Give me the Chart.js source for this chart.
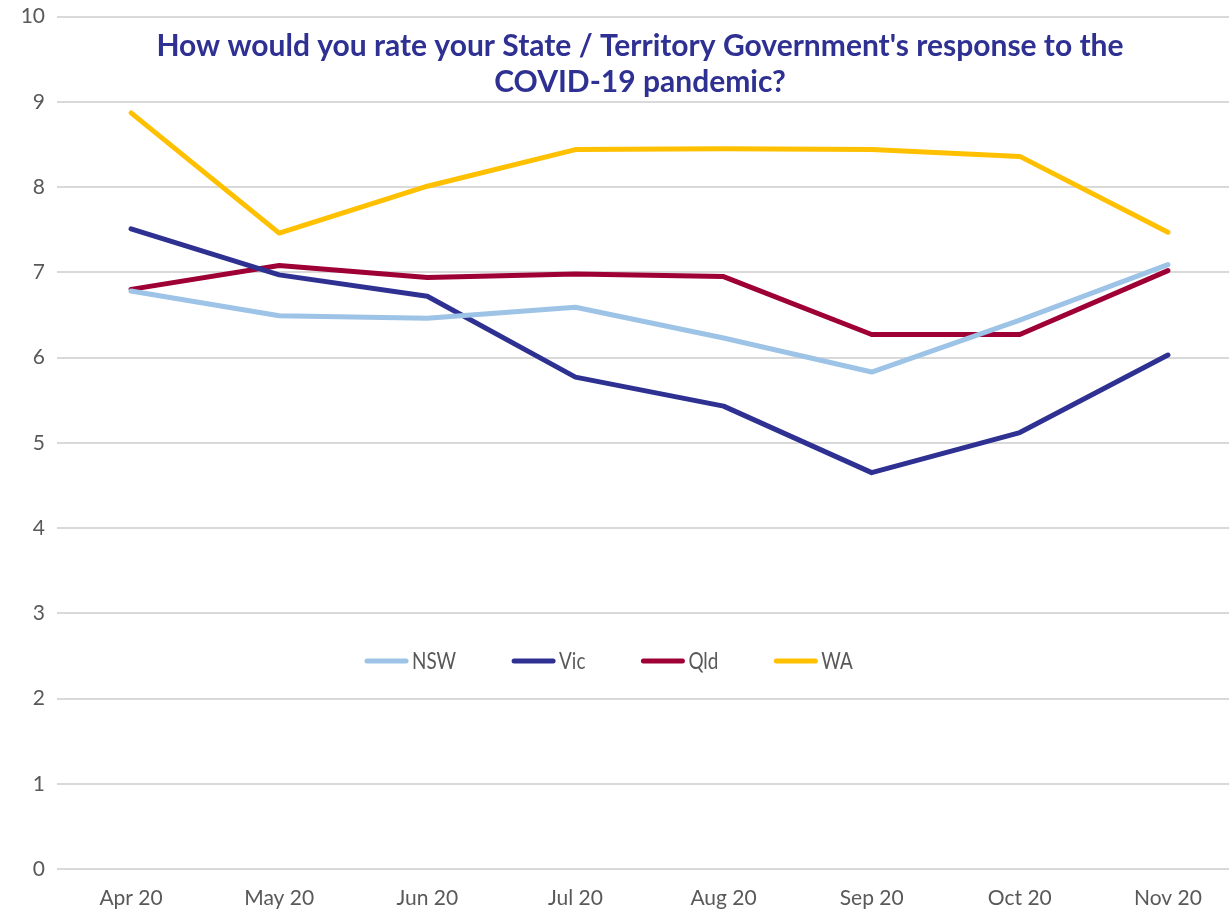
<!DOCTYPE html>
<html>
<head>
<meta charset="utf-8">
<script src="https://cdn.jsdelivr.net/npm/chart.js@4/dist/chart.umd.min.js"></script>
<style>
  html, body { margin: 0; padding: 0; background: #fff; overflow: hidden; }
  /* plot area runs a little past the right edge, as in the original */
  #wrap { width: 1242px; height: 919px; margin-top: -8px; }
</style>
</head>
<body>
<div id="wrap"><canvas id="chart"></canvas></div>
<script>
// ── Data ──────────────────────────────────────────────────
const months = ['Apr 20', 'May 20', 'Jun 20', 'Jul 20', 'Aug 20', 'Sep 20', 'Oct 20', 'Nov 20'];
const nsw = [6.78, 6.49, 6.46, 6.59, 6.23, 5.83, 6.44, 7.09];
const vic = [7.51, 6.97, 6.72, 5.77, 5.43, 4.65, 5.12, 6.03];
const qld = [6.80, 7.08, 6.94, 6.98, 6.95, 6.27, 6.27, 7.02];
const wa  = [8.87, 7.46, 8.01, 8.44, 8.45, 8.44, 8.36, 7.47];

const titleLines = ["How would you rate your State / Territory Government's response to the", 'COVID-19 pandemic?'];
const FONT = 'Lato, Calibri, "Open Sans", sans-serif';
const OFFSET_Y = 8; // canvas is shifted up by this much

// ── Plugins: title + legend inside the plot area ──────────
const innerTitle = {
  id: 'innerTitle',
  afterDraw(chart) {
    const { ctx } = chart;
    ctx.save();
    ctx.fillStyle = '#2E3192';
    ctx.font = 'bold 30px ' + FONT;
    ctx.textAlign = 'center';
    ctx.textBaseline = 'middle';
    ctx.fillText(titleLines[0], 640, 46 + OFFSET_Y);
    ctx.fillText(titleLines[1], 640, 82 + OFFSET_Y);
    ctx.restore();
  }
};

const innerLegend = {
  id: 'innerLegend',
  afterDraw(chart) {
    const { ctx } = chart;
    const ds = chart.data.datasets;
    const y = 661 + OFFSET_Y, lineLen = 45, gapText = 3, gapItem = 55;
    const squeeze = 0.82; // narrower glyphs, closer to the original face
    ctx.save();
    ctx.font = '23px ' + FONT;
    ctx.textBaseline = 'middle';
    let x = 364;
    ds.forEach(d => {
      ctx.strokeStyle = d.borderColor;
      ctx.lineWidth = 5;
      ctx.lineCap = 'round';
      ctx.beginPath();
      ctx.moveTo(x + 3, y);
      ctx.lineTo(x + lineLen - 3, y);
      ctx.stroke();
      const tx = x + lineLen + gapText;
      ctx.save();
      ctx.translate(tx, y + 1);
      ctx.scale(squeeze, 1);
      ctx.fillStyle = '#595959';
      ctx.fillText(d.label, 0, 0);
      ctx.restore();
      x = tx + ctx.measureText(d.label).width * squeeze + gapItem;
    });
    ctx.restore();
  }
};

// ── Chart ─────────────────────────────────────────────────
const line = (label, data, color) => ({
  label, data,
  borderColor: color,
  backgroundColor: color,
  borderWidth: 5,
  pointRadius: 0,
  tension: 0,
  borderCapStyle: 'round',
  borderJoinStyle: 'round'
});

new Chart(document.getElementById('chart'), {
  type: 'line',
  data: {
    labels: months,
    datasets: [
      line('NSW', nsw, '#9DC3E6'),
      line('Vic', vic, '#2E3192'),
      line('Qld', qld, '#9E0036'),
      line('WA', wa, '#FFC000')
    ]
  },
  options: {
    responsive: true,
    maintainAspectRatio: false,
    animation: false,
    layout: { padding: { top: -3, right: 0, left: 0, bottom: 0 } },
    plugins: { legend: { display: false }, title: { display: false }, tooltip: { enabled: false } },
    scales: {
      x: {
        offset: true,
        afterFit: s => { s.height = 42; },
        grid: { display: false, drawTicks: false },
        border: { display: false },
        ticks: { color: '#595959', font: { family: FONT, size: 21 }, padding: 17, maxRotation: 0 }
      },
      y: {
        min: 0, max: 10,
        afterFit: s => { s.width = 57; },
        grid: { color: '#D9D9D9', lineWidth: 2, drawTicks: false },
        border: { display: false },
        ticks: { stepSize: 1, color: '#595959', font: { family: FONT, size: 21 }, padding: 12 }
      }
    }
  },
  plugins: [innerTitle, innerLegend]
});
</script>
</body>
</html>
